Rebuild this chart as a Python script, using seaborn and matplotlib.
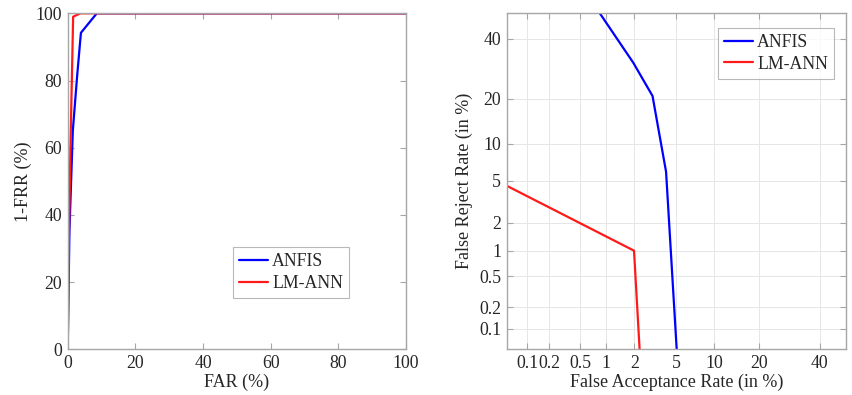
import math
import numpy as np
import pandas as pd
import matplotlib
matplotlib.use("Agg")
import matplotlib.pyplot as plt
import seaborn as sns

# ---------------- data ----------------
series_names = ["ANFIS", "LM-ANN"]

# ROC (left): FAR (%) vs 1-FRR (%)
roc_anfis_far = [0, 0.5, 1.5, 2.8, 3.9, 8.6, 100]
roc_anfis_tpr = [0, 35, 65, 81.6, 94.2, 100, 100]
roc_lm_far = [0, 0.3, 0.8, 1.6, 3.8, 100]
roc_lm_tpr = [0, 30, 60, 99, 100, 100]

# DET (right): FAR (%) vs FRR (%)
det_anfis_far = [0.84, 1.96, 3.03, 4.05, 5.3]
det_anfis_frr = [50, 31.2, 20.8, 6.0, 0.01]
det_lm_far = [0.02, 1.99, 2.4]
det_lm_frr = [5.9, 1.0, 0.01]

lin_ticks = [0, 20, 40, 60, 80, 100]
det_ticks = [0.1, 0.2, 0.5, 1, 2, 5, 10, 20, 40]
det_ticklabels = ["0.1", "0.2", "0.5", "1", "2", "5", "10", "20", "40"]
det_limits = [0.05, 50]

colors = {"ANFIS": "#0000ff", "LM-ANN": "#ff1a1a"}

# ---------------- probit scale helpers ----------------
_a = [-3.969683028665376e+01, 2.209460984245205e+02, -2.759285104469687e+02,
      1.383577518672690e+02, -3.066479806614716e+01, 2.506628277459239e+00]
_b = [-5.447609879822406e+01, 1.615858368580409e+02, -1.556989798598866e+02,
      6.680131188771972e+01, -1.328068155288572e+01]
_c = [-7.784894002430293e-03, -3.223964580411365e-01, -2.400758277161838e+00,
      -2.549732539343734e+00, 4.374664141464968e+00, 2.938163982698783e+00]
_d = [7.784695709041462e-03, 3.224671290700398e-01, 2.445134137142996e+00,
      3.754408661907416e+00]


def _ppf_scalar(p):
    p = min(max(p, 1e-12), 1 - 1e-12)
    plow = 0.02425
    if p < plow:
        q = math.sqrt(-2 * math.log(p))
        return (((((_c[0]*q+_c[1])*q+_c[2])*q+_c[3])*q+_c[4])*q+_c[5]) / \
               ((((_d[0]*q+_d[1])*q+_d[2])*q+_d[3])*q+1)
    if p > 1 - plow:
        q = math.sqrt(-2 * math.log(1 - p))
        return -(((((_c[0]*q+_c[1])*q+_c[2])*q+_c[3])*q+_c[4])*q+_c[5]) / \
                ((((_d[0]*q+_d[1])*q+_d[2])*q+_d[3])*q+1)
    q = p - 0.5
    r = q * q
    return (((((_a[0]*r+_a[1])*r+_a[2])*r+_a[3])*r+_a[4])*r+_a[5])*q / \
           (((((_b[0]*r+_b[1])*r+_b[2])*r+_b[3])*r+_b[4])*r+1)


_ppf_vec = np.vectorize(_ppf_scalar, otypes=[float])
_erf_vec = np.vectorize(math.erf, otypes=[float])


def probit_fwd(x):
    x = np.asarray(x, dtype=float)
    if x.size == 0:
        return x
    return _ppf_vec(x / 100.0)


def probit_inv(z):
    z = np.asarray(z, dtype=float)
    if z.size == 0:
        return z
    return 100.0 * 0.5 * (1 + _erf_vec(z / math.sqrt(2)))


# ---------------- data frames ----------------
roc_df = pd.concat([
    pd.DataFrame({"FAR": roc_anfis_far, "TPR": roc_anfis_tpr, "Model": series_names[0]}),
    pd.DataFrame({"FAR": roc_lm_far, "TPR": roc_lm_tpr, "Model": series_names[1]}),
], ignore_index=True)
det_df = pd.concat([
    pd.DataFrame({"FAR": det_anfis_far, "FRR": det_anfis_frr, "Model": series_names[0]}),
    pd.DataFrame({"FAR": det_lm_far, "FRR": det_lm_frr, "Model": series_names[1]}),
], ignore_index=True)

# ---------------- style ----------------
sns.set_theme(style="white")
plt.rcParams["font.family"] = ["Liberation Serif", "DejaVu Serif"]
plt.rcParams["font.size"] = 12
spine_col = "#a6a6a6"
text_col = "#262626"

fig = plt.figure(figsize=(8.53, 3.95), dpi=100)
ax1 = fig.add_axes([0.0794, 0.1157, 0.3966, 0.8506])
ax2 = fig.add_axes([0.594, 0.1157, 0.3978, 0.8521])

leg_kw = dict(fontsize=12.8, frameon=True, fancybox=False, handlelength=1.6,
              borderpad=0.35, labelspacing=0.25, handletextpad=0.25,
              borderaxespad=0)

# ---- left: ROC ----
sns.lineplot(data=roc_df, x="FAR", y="TPR", hue="Model", palette=colors,
             sort=False, estimator=None, linewidth=1.6, ax=ax1)
ax1.set_xlim(0, 100)
ax1.set_ylim(0, 100)
ax1.set_xticks(lin_ticks)
ax1.set_yticks(lin_ticks)
ax1.set_xlabel("FAR (%)", fontsize=13, color=text_col, labelpad=1)
ax1.set_ylabel("1-FRR (%)", fontsize=13, color=text_col, labelpad=3)
leg1 = ax1.legend(loc="upper left", bbox_to_anchor=(0.489, 0.304), **leg_kw)
leg1.get_frame().set_edgecolor(spine_col)
leg1.get_frame().set_linewidth(0.8)

# ---- right: DET ----
ax2.set_xscale("function", functions=(probit_fwd, probit_inv))
ax2.set_yscale("function", functions=(probit_fwd, probit_inv))
sns.lineplot(data=det_df, x="FAR", y="FRR", hue="Model", palette=colors,
             sort=False, estimator=None, linewidth=1.6, ax=ax2)
ax2.set_xlim(*det_limits)
ax2.set_ylim(*det_limits)
ax2.set_xticks(det_ticks)
ax2.set_xticklabels(det_ticklabels)
ax2.set_yticks(det_ticks)
ax2.set_yticklabels(det_ticklabels)
ax2.minorticks_off()
ax2.grid(True, color="#e6e6e6", linewidth=0.7)
ax2.set_xlabel("False Acceptance Rate (in %)", fontsize=13, color=text_col, labelpad=1)
ax2.set_ylabel("False Reject Rate (in %)", fontsize=13, color=text_col, labelpad=4)
leg2 = ax2.legend(loc="upper left", bbox_to_anchor=(0.623, 0.955), **leg_kw)
leg2.get_frame().set_edgecolor(spine_col)
leg2.get_frame().set_linewidth(0.8)

for ax in (ax1, ax2):
    for s in ax.spines.values():
        s.set_visible(True)
        s.set_color(spine_col)
        s.set_linewidth(1.0)
    ax.tick_params(direction="in", length=4, width=0.8, color=spine_col,
                   labelsize=12.8, labelcolor=text_col, top=True, right=True,
                   bottom=True, left=True, pad=4)
    ax.set_axisbelow(True)

fig.savefig("out.png", dpi=100)
